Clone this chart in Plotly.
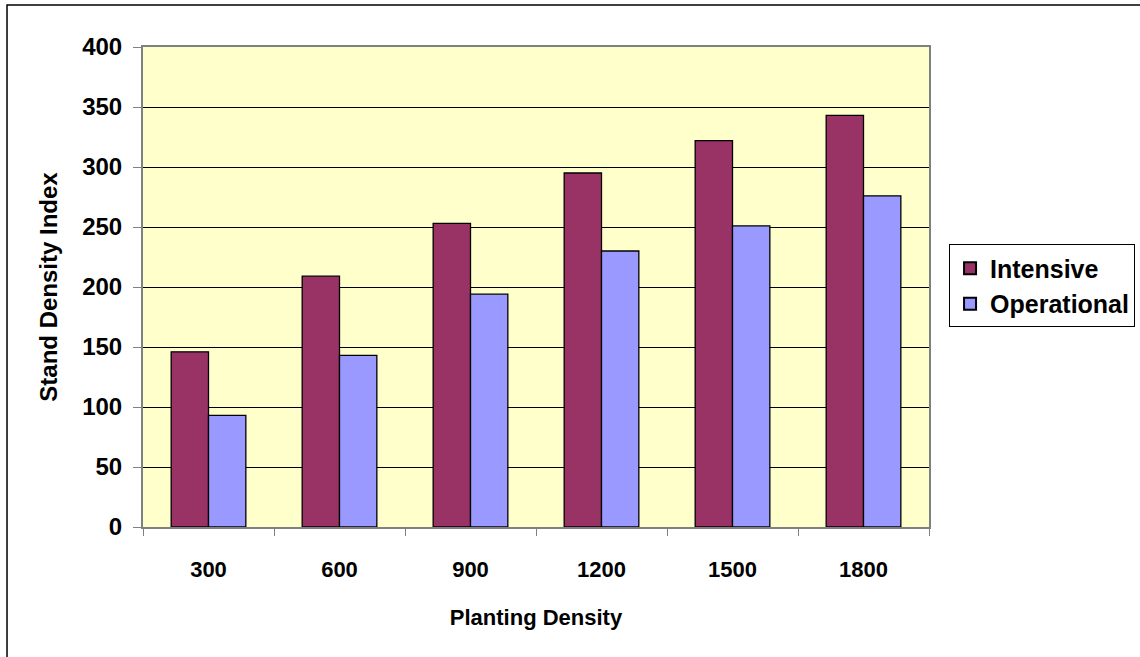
import plotly.graph_objects as go

# Stand density index by planting density for two management regimes
planting_density = ["300", "600", "900", "1200", "1500", "1800"]
intensive = [146, 209, 253, 295, 322, 343]
operational = [93, 143, 194, 230, 251, 276]
y_ticks = [0, 50, 100, 150, 200, 250, 300, 350, 400]

FONT = "Liberation Sans, Arial, sans-serif"

fig = go.Figure()
fig.add_trace(go.Bar(
    x=planting_density, y=intensive, name="Intensive",
    marker=dict(color="#993366", line=dict(color="#000000", width=1.3)),
))
fig.add_trace(go.Bar(
    x=planting_density, y=operational, name="Operational",
    marker=dict(color="#9999FF", line=dict(color="#000000", width=1.3)),
))

fig.update_layout(
    width=1140, height=657,
    margin=dict(l=143, r=211, t=47, b=130, autoexpand=False),
    paper_bgcolor="#FFFFFF",
    plot_bgcolor="#FFFFCC",
    barmode="group",
    bargap=0.43,
    bargroupgap=0,
    font=dict(family=FONT, size=22, color="#000000"),
    showlegend=True,
    legend=dict(
        xref="container", yref="container",
        x=0.8325, y=0.5647, xanchor="left", yanchor="middle",
        bgcolor="#FFFFFF", bordercolor="#000000", borderwidth=1,
        font=dict(family=FONT, size=25, color="#000000", weight="bold"),
        tracegroupgap=2, itemsizing="constant", itemwidth=30,
    ),
    xaxis=dict(
        type="category",
        tickson="boundaries",
        ticks="outside", ticklen=7, tickcolor="#808080", tickwidth=1,
        showline=True, linecolor="#808080", linewidth=2, mirror=True,
        showgrid=False,
        tickfont=dict(family=FONT, size=22, color="#000000", weight="bold"),
        ticklabelstandoff=22,
        title=dict(text="Planting Density", standoff=28,
                   font=dict(family=FONT, size=22, color="#000000", weight="bold")),
    ),
    yaxis=dict(
        range=[0, 400],
        tickvals=y_ticks,
        ticks="outside", ticklen=8, tickcolor="#808080", tickwidth=1,
        showline=True, linecolor="#808080", linewidth=2, mirror=True,
        showgrid=True, gridcolor="#000000", gridwidth=1,
        zeroline=False,
        tickfont=dict(family=FONT, size=24, color="#000000", weight="bold"),
        ticklabelstandoff=6,
        title=dict(text="Stand Density Index", standoff=18,
                   font=dict(family=FONT, size=24, color="#000000", weight="bold")),
    ),
    shapes=[
        # chart frame around the whole figure
        dict(type="rect", xref="paper", yref="paper",
             x0=-0.173, x1=1.30, y0=-0.30, y1=1.0875,
             line=dict(color="#000000", width=1.5), fillcolor="rgba(0,0,0,0)",
             layer="below"),
    ],
)

fig.write_html("out.html")
